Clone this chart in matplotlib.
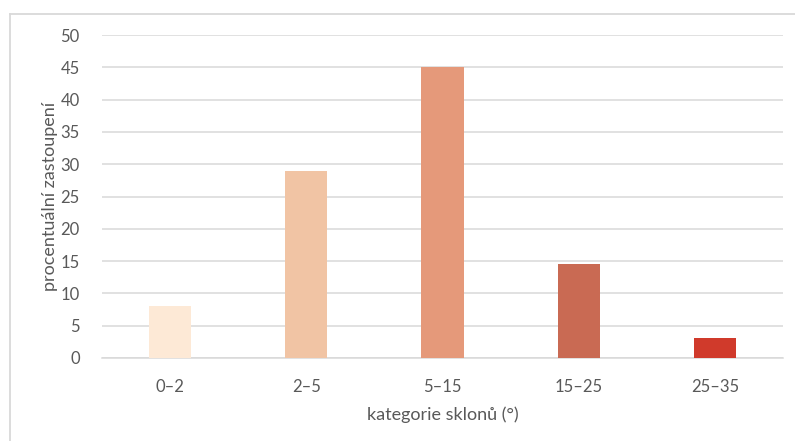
import matplotlib
matplotlib.use("Agg")
import matplotlib.pyplot as plt
from matplotlib.lines import Line2D

categories = ["0\u20132", "2\u20135", "5\u201315", "15\u201325", "25\u201335"]
shares = [8.0, 29.0, 45.1, 14.6, 3.1]
bar_colors = ["#FDE9D6", "#F1C4A4", "#E5997A", "#C96A53", "#D03A2B"]
y_ticks = list(range(0, 51, 5))

plt.rcParams['font.family'] = ['Lato', 'DejaVu Sans']
TEXT = "#595959"
GRID = "#D9D9D9"

W, H = 795, 441
fig = plt.figure(figsize=(W / 100, H / 100), dpi=100)
ax = fig.add_axes([102 / W, 1 - 358 / H, (783 - 102) / W, (358 - 35) / H])

x = range(len(categories))
ax.bar(x, shares, width=0.31, color=bar_colors, zorder=3)

ax.set_xlim(-0.5, len(categories) - 0.5)
ax.set_ylim(0, 50)
ax.set_yticks(y_ticks)
ax.set_xticks(list(x))
ax.set_xticklabels(categories)
ax.tick_params(axis='both', length=0, labelsize=12, labelcolor=TEXT)
ax.tick_params(axis='x', pad=15)
ax.tick_params(axis='y', pad=16)

ax.grid(axis='y', color=GRID, linewidth=1.1, zorder=0)
for s in ['top', 'right', 'left']:
    ax.spines[s].set_visible(False)
ax.spines['bottom'].set_color(GRID)
ax.spines['bottom'].set_linewidth(1.1)

ax.set_ylabel("procentuální zastoupení", fontsize=13, color=TEXT, labelpad=2)
ax.set_xlabel("kategorie sklonů (°)", fontsize=13, color=TEXT, labelpad=8)

# chart frame, open at the right and bottom
fig.add_artist(Line2D([10 / W, 1], [1 - 14 / H, 1 - 14 / H], color=GRID,
                      linewidth=1.3, transform=fig.transFigure))
fig.add_artist(Line2D([10 / W, 10 / W], [0, 1 - 14 / H], color=GRID,
                      linewidth=1.3, transform=fig.transFigure))

fig.savefig("out.png", dpi=100)
